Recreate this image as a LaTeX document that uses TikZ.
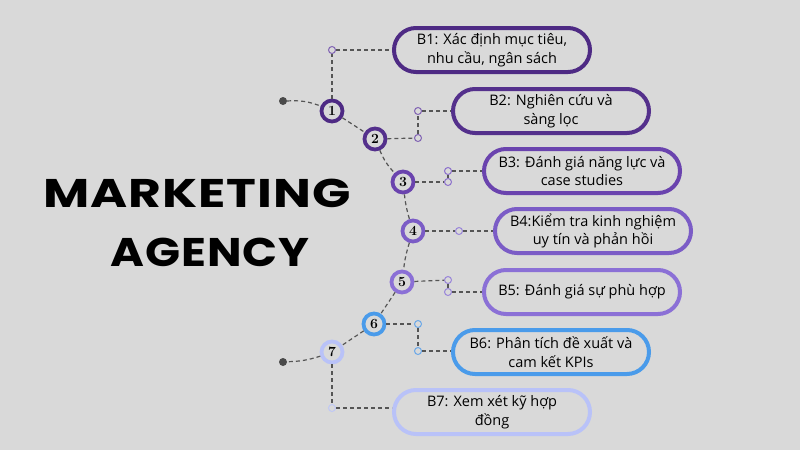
\documentclass[tikz,border=0pt]{standalone}
\usepackage{fontspec}
\newfontfamily\boxfont{Open Sans}
\newfontfamily\titlefont{Poppins}[LetterSpace=2]
\definecolor{bgc}{HTML}{D9D9D9}
\definecolor{dashc}{HTML}{555555}
\definecolor{dotc}{HTML}{4A4A4A}
\definecolor{c1}{HTML}{4E2A84}
\definecolor{c2}{HTML}{54308C}
\definecolor{c3}{HTML}{6A43AE}
\definecolor{c4}{HTML}{7B5CC6}
\definecolor{c5}{HTML}{8B70D6}
\definecolor{c6}{HTML}{4A9BEA}
\definecolor{c7}{HTML}{B9C2F8}
\definecolor{q1}{HTML}{8163B4}
\definecolor{q3}{HTML}{8C70CC}
\definecolor{q5}{HTML}{9A86DA}
\definecolor{q6}{HTML}{6AA8E8}
\definecolor{q7}{HTML}{C0C8F5}
\begin{document}
\begin{tikzpicture}[x=1pt,y=-1pt,
  num/.style={circle, draw, line width=3.8pt, fill=bgc, minimum size=21pt, inner sep=0pt, font=\bfseries\fontsize{14}{14}\selectfont},
  stepbox/.style={rounded corners=22pt, draw, line width=4pt, minimum width=196pt, minimum height=44pt, align=center, fill=bgc, font=\boxfont\fontsize{14.5}{18.5}\selectfont},
  conn/.style={draw=dashc, dash pattern=on 4pt off 3pt, line width=1.2pt},
  pin/.style={circle, draw, line width=1pt, fill=bgc, minimum size=7pt, inner sep=0pt},
  dotn/.style={circle, fill=dotc, minimum size=8pt, inner sep=0pt},
  title/.style={font=\titlefont\bfseries\fontsize{40}{40}\selectfont, inner sep=0pt}]
\fill[bgc] (0,0) rectangle (800,450);
\useasboundingbox (0,0) rectangle (800,450);

\node[title] (t1) at (197,193) {\scalebox{1.26}[1]{MARKETING}};
\node[title] (t2) at (210,252) {\scalebox{1.15}[1]{AGENCY}};

\node[dotn] (d1) at (283,101) {};
\node[dotn] (d2) at (283,362) {};

\node[num, draw=c1] (n1) at (332,111) {1};
\node[num, draw=c2] (n2) at (375,139) {2};
\node[num, draw=c3] (n3) at (403,182) {3};
\node[num, draw=c4] (n4) at (413,231) {4};
\node[num, draw=c5] (n5) at (402,282) {5};
\node[num, draw=c6] (n6) at (374,324) {6};
\node[num, draw=c7] (n7) at (332,352) {7};

\node[stepbox, draw=c1] (b1) at (492,50) {B1: Xác định mục tiêu,\\nhu cầu, ngân sách};
\node[stepbox, draw=c2] (b2) at (551,111) {B2: Nghiên cứu và\\sàng lọc};
\node[stepbox, draw=c3] (b3) at (582,171) {B3: Đánh giá năng lực và\\case studies};
\node[stepbox, draw=c4] (b4) at (593,231) {B4:Kiểm tra kinh nghiệm\\uy tín và phản hồi};
\node[stepbox, draw=c5] (b5) at (582,292) {B5: Đánh giá sự phù hợp};
\node[stepbox, draw=c6] (b6) at (551,352) {B6: Phân tích đề xuất và\\cam kết KPIs};
\node[stepbox, draw=c7] (b7) at (492,412) {B7: Xem xét kỹ hợp\\đồng};

\node[pin, draw=q1] (p1) at (332,50) {};
\node[pin, draw=q1] (p2a) at (418,111) {};
\node[pin, draw=q1] (p2b) at (418,138) {};
\node[pin, draw=q3] (p3a) at (448,171) {};
\node[pin, draw=q3] (p3b) at (448,182) {};
\node[pin, draw=q5] (p4) at (459,231) {};
\node[pin, draw=q5] (p5a) at (448,280) {};
\node[pin, draw=q5] (p5b) at (448,292) {};
\node[pin, draw=q6] (p6a) at (418,324) {};
\node[pin, draw=q6] (p6b) at (418,351) {};
\node[pin, draw=q7] (p7) at (332,408) {};

% spine
\draw[conn] (d1) to[bend left=12] (n1);
\draw[conn] (n1) -- (n2);
\draw[conn] (n2) to[bend right=10] (n3);
\draw[conn] (n3) to[bend right=5] (n4);
\draw[conn] (n4) to[bend right=5] (n5);
\draw[conn] (n5) -- (n6);
\draw[conn] (n6) -- (n7);
\draw[conn] (n7) to[bend left=8] (d2);

% branches
\draw[conn] (n1) -- (p1);
\draw[conn] (p1) -- (p1 -| b1.west);
\draw[conn] (n2) -- (p2b);
\draw[conn] (p2b) -- (p2a);
\draw[conn] (p2a) -- (p2a -| b2.west);
\draw[conn] (n3) -- (p3b);
\draw[conn] (p3b) -- (p3a);
\draw[conn] (p3a) -- (p3a -| b3.west);
\draw[conn] (n4) -- (p4);
\draw[conn] (p4) -- (p4 -| b4.west);
\draw[conn] (n5) -- (p5a);
\draw[conn] (p5a) -- (p5b);
\draw[conn] (p5b) -- (p5b -| b5.west);
\draw[conn] (n6) -- (p6a);
\draw[conn] (p6a) -- (p6b);
\draw[conn] (p6b) -- (p6b -| b6.west);
\draw[conn] (n7) -- (p7);
\draw[conn] (p7) -- (p7 -| b7.west);
\end{tikzpicture}
\end{document}
